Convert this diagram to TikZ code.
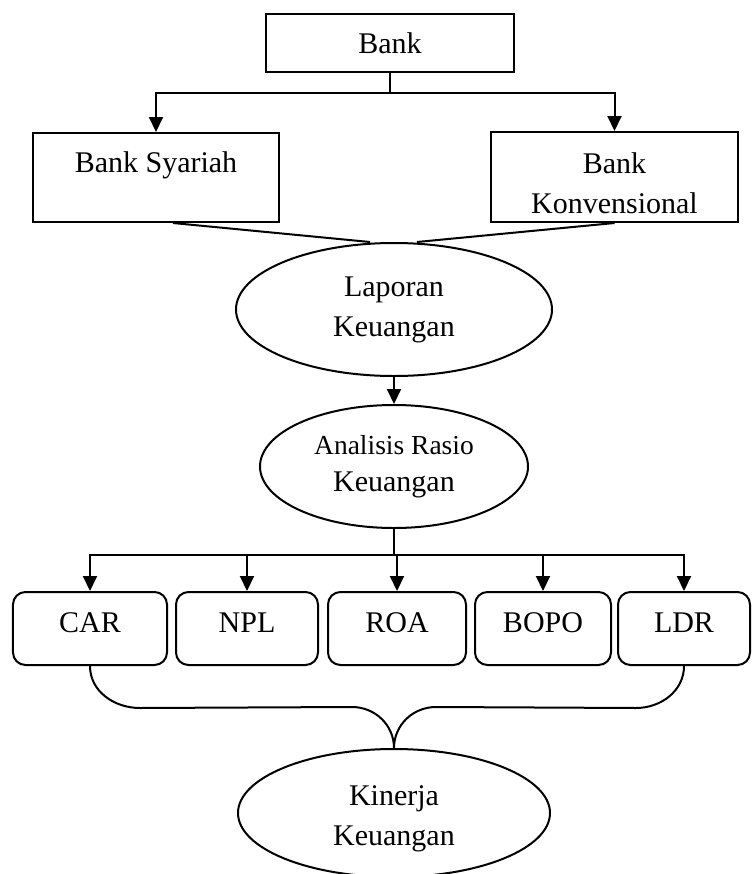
\documentclass[tikz,border=0pt]{standalone}
\usepackage{fontspec}
\setmainfont{Liberation Serif}
\usepackage{tikz}
\usetikzlibrary{shapes.geometric, arrows.meta, calc}

\begin{document}
\begin{tikzpicture}[x=0.4pt, y=-0.4pt, line width=0.8pt,
	font=\fontsize{12}{16}\selectfont,
	box/.style={draw, rectangle, inner sep=0pt},
	rbox/.style={draw, rectangle, rounded corners=5pt, inner sep=0pt, text height=16pt, text depth=13.2pt},
	oval/.style={draw, ellipse, inner sep=0pt, align=center},
	arr/.style={-{Triangle[length=6pt, width=5.6pt]}}]
	\useasboundingbox (0,0) rectangle (752,874); % Rand um Grafik
	
	\node[box, minimum width=99.2pt, minimum height=23.2pt] (bank) at (390,43) {Bank};
	\node[box, minimum width=98.4pt, text height=15.6pt, text depth=20pt] (syariah) at (156,177.5) {Bank Syariah};
	\node[box, minimum width=98.8pt, text height=16.4pt, text depth=19.6pt] (konv) at (614.5,177) {\begin{tabular}[t]{@{}c@{}}Bank\\Konvensional\end{tabular}};
	
	\node[oval, minimum width=126.4pt, minimum height=53.2pt] (lap) at (394,309.5) {Laporan\\Keuangan};
	\node[oval, minimum width=107.2pt, minimum height=49.2pt, font=\fontsize{12}{14.8}\selectfont] (ana) at (394,466.5) {{\fontsize{11}{14.8}\selectfont Analisis Rasio}\\Keuangan};
	
	% Rasio
	\node[rbox, minimum width=61.6pt] (car) at (90,628.5) {CAR};
	\node[rbox, minimum width=56.8pt] (npl) at (247,628.5) {NPL};
	\node[rbox, minimum width=55.2pt] (roa) at (397,628.5) {ROA};
	\node[rbox, minimum width=54.4pt] (bopo) at (543,628.5) {BOPO};
	\node[rbox, minimum width=52.8pt] (ldr) at (684,628.5) {LDR};
	
	\node[oval, minimum width=124.8pt, minimum height=51.2pt, text height=12pt, text depth=18.4pt] (kin) at (394,813) {\begin{tabular}[t]{@{}c@{}}Kinerja\\Keuangan\end{tabular}};
	
	% Verbindungen
	\coordinate (split) at (390,93);
	\draw (bank) -- (split);
	\draw[arr] (split) -| (syariah);
	\draw[arr] (split) -| (konv);
	
	\draw ($(syariah.south)+(17,0)$) -- ($(lap.north)+(-24,0)$);
	\draw (konv.south) -- ($(lap.north)+(23,0)$);
	
	\draw[arr] (lap) -- (ana);
	
	\coordinate (fork) at (394,555);
	\draw (ana) -- (fork);
	\foreach \n in {car,npl,roa,bopo,ldr}
		\draw[arr] (fork) -| (\n);
	
	% Klammer
	\draw (car.south) to[out=-90, in=180] ++(50,42) -- (352,707) to[out=0, in=90] (kin.north);
	\draw (ldr.south) to[out=-90, in=0] ++(-48,42) -- (436,707) to[out=180, in=90] (kin.north);
\end{tikzpicture}
\end{document}
